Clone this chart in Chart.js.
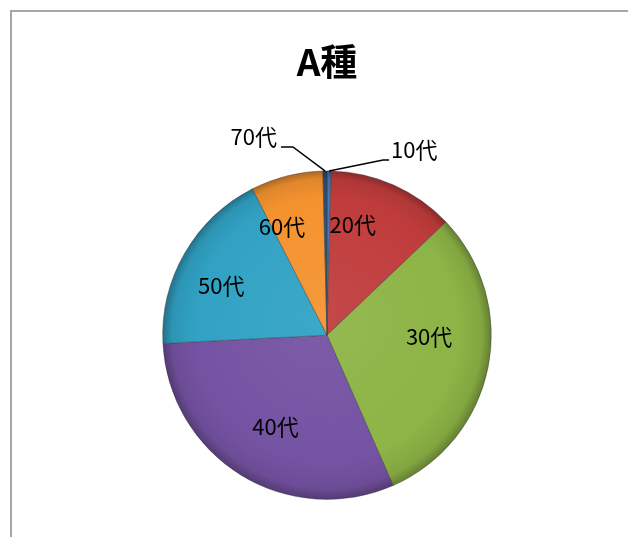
<!DOCTYPE html>
<html>
<head>
<meta charset="utf-8">
<script src="https://cdn.jsdelivr.net/npm/chart.js@4.4.0/dist/chart.umd.min.js"></script>
<style>
  html, body { margin: 0; padding: 0; background: #fff; overflow: hidden; }
  #frame { position: absolute; left: 10px; top: 10px; width: 700px; height: 600px; border: 2px solid #a6a6a6; }
  #wrap { position: absolute; left: 0; top: 0; width: 628px; height: 537px; }
</style>
</head>
<body>
<div id="frame"></div>
<div id="wrap"><canvas id="pieChart"></canvas></div>
<script>
const labels = ["10代", "20代", "30代", "40代", "50代", "60代", "70代"];
const values = [0.4, 12.5, 30.5, 30.8, 18.3, 7.1, 0.4];
const colors = ["#4677BA", "#C03C3C", "#8DB446", "#7553A3", "#31A2C4", "#F4922F", "#2C4D75"];
const outside = ["10代", "70代"];

function shade(hex, amt) {
    const n = parseInt(hex.slice(1), 16);
    let r = n >> 16, g = (n >> 8) & 255, b = n & 255;
    const t = amt < 0 ? 0 : 255, p = Math.abs(amt);
    r = Math.round(r + (t - r) * p);
    g = Math.round(g + (t - g) * p);
    b = Math.round(b + (t - b) * p);
    return `rgb(${r},${g},${b})`;
}

/* flat fill with a darker rim, like the Excel bevel */
function sliceFill(ctx) {
    const base = colors[ctx.dataIndex];
    const a = ctx.chart.chartArea;
    if (!a) return base;
    const cx = (a.left + a.right) / 2, cy = (a.top + a.bottom) / 2;
    const r = Math.min(a.right - a.left, a.bottom - a.top) / 2;
    const g = ctx.chart.ctx.createRadialGradient(cx, cy - r * 0.15, 0, cx, cy, r);
    g.addColorStop(0, shade(base, 0.06));
    g.addColorStop(0.8, base);
    g.addColorStop(0.94, shade(base, -0.08));
    g.addColorStop(1, shade(base, -0.3));
    return g;
}

const labelPlugin = {
    id: "sliceLabels",
    afterDatasetsDraw(chart) {
        const c = chart.ctx;
        const arcs = chart.getDatasetMeta(0).data;
        c.save();
        c.font = "22px 'Noto Sans CJK JP', sans-serif";
        c.fillStyle = "#000";
        c.strokeStyle = "#000";
        c.lineWidth = 1.5;
        c.textBaseline = "middle";
        arcs.forEach((arc, i) => {
            const p = arc.getProps(["x", "y", "startAngle", "endAngle", "outerRadius"], true);
            const mid = (p.startAngle + p.endAngle) / 2;
            const name = labels[i];
            if (outside.includes(name)) {
                const ex = p.x + Math.cos(mid) * p.outerRadius;
                const ey = p.y + Math.sin(mid) * p.outerRadius;
                const right = name === "10代";
                const kx = ex + (right ? 54 : -32);
                const ky = ey + (right ? -11 : -24);
                const tx = kx + (right ? 6 : -12);
                c.beginPath();
                c.moveTo(ex, ey);
                c.lineTo(kx, ky);
                c.lineTo(tx, ky);
                c.stroke();
                c.textAlign = right ? "left" : "right";
                c.fillText(name, tx + (right ? 2 : -4), ky - 10);
            } else {
                const ang = mid - 0.12;
                const rr = p.outerRadius * 0.66;
                c.textAlign = "center";
                c.fillText(name, p.x + Math.cos(ang) * rr - 6, p.y + Math.sin(ang) * rr - 7);
            }
        });
        c.restore();
    }
};

new Chart(document.getElementById("pieChart").getContext("2d"), {
    type: "pie",
    data: {
        labels: labels,
        datasets: [{
            data: values,
            backgroundColor: sliceFill,
            borderColor: "rgba(50,50,50,0.4)",
            borderWidth: 1
        }]
    },
    options: {
        responsive: true,
        maintainAspectRatio: false,
        animation: false,
        layout: { padding: { left: 26, right: 0, top: 0, bottom: 37 } },
        plugins: {
            legend: { display: false },
            tooltip: { enabled: false },
            title: {
                display: true,
                text: "A種",
                color: "#000",
                font: { family: "'Noto Sans CJK JP', sans-serif", size: 37, weight: "bold", lineHeight: 1.2 },
                padding: { top: 40, bottom: 86 }
            }
        }
    },
    plugins: [labelPlugin]
});
</script>
</body>
</html>
